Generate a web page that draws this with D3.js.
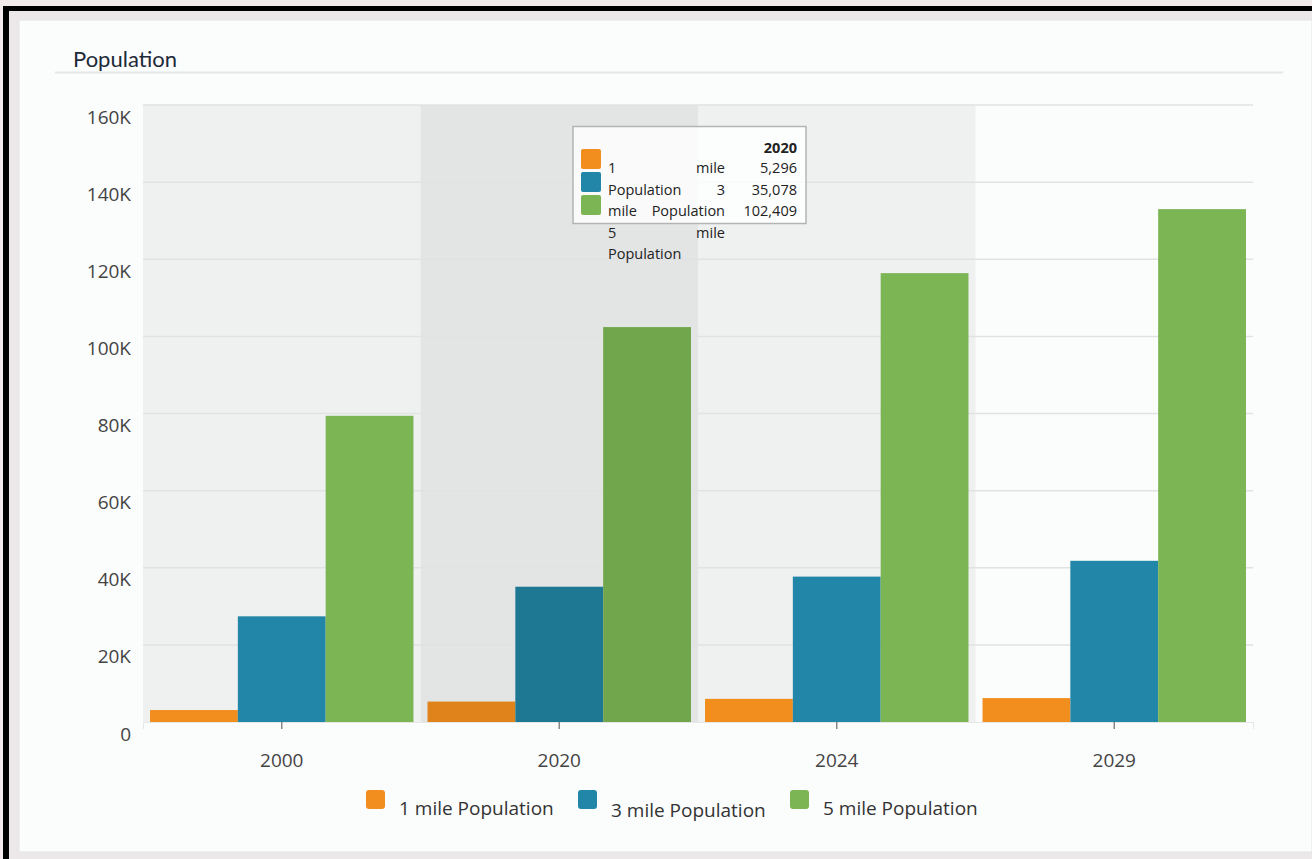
<!DOCTYPE html>
<html>
<head>
<meta charset="utf-8">
<script src="https://cdn.jsdelivr.net/npm/d3@7"></script>
<style>
  body { margin: 0; background: #f4eced; }
  svg { display: block; }
  .tick text { font-family: "Open Sans", sans-serif; }
</style>
</head>
<body>
<svg width="1312" height="859"></svg>
<script>
// chart data
const years = ["2000", "2020", "2024", "2029"]
const seriesNames = ["1 mile Population", "3 mile Population", "5 mile Population"]
const mile1 = [3100, 5296, 6000, 6200]
const mile3 = [27400, 35078, 37700, 41800]
const mile5 = [79400, 102409, 116400, 133000]
const colors = ["#f28e1e", "#2186a7", "#7cb554"]
const hoverColors = ["#e0831b", "#1e7894", "#71a64c"]
const hovered = "2020" // the band under the mouse in the picture

const svg = d3.select("svg")

// page background, black frame and the white panel
svg.append("rect").attr("width", 1312).attr("height", 859).attr("fill", "#f3eaeb")
svg.append("rect").attr("x", 3).attr("y", 6).attr("width", 1309).attr("height", 853).attr("fill", "#000")
svg.append("rect").attr("x", 9).attr("y", 11).attr("width", 1303).attr("height", 848).attr("fill", "#ece7e8")
svg.append("rect")
  .attr("x", 19).attr("y", 20).attr("width", 1293).attr("height", 832)
  .attr("fill", "#fbfcfc").attr("stroke", "#e3e5e5")

// title
svg.append("text")
  .attr("x", 73).attr("y", 67)
  .attr("font-family", "Lato, sans-serif")
  .attr("font-size", 22)
  .attr("fill", "#1d2a38")
  .text("Population")

svg.append("line")
  .attr("x1", 55).attr("x2", 1283).attr("y1", 72.5).attr("y2", 72.5)
  .attr("stroke", "#e4e7e7").attr("stroke-width", 2)

// scales
const x = d3.scaleBand().domain(years).range([143, 1253])
const xInner = d3.scaleBand().domain(seriesNames).range([0, x.bandwidth()]).paddingOuter(0.08)
const y = d3.scaleLinear().domain([0, 160000]).range([722, 105])

// category bands (last one left blank, hovered one darker)
svg.append("g")
  .selectAll("rect")
  .data(years)
  .enter()
  .append("rect")
  .attr("x", d => x(d))
  .attr("y", y(160000))
  .attr("width", x.bandwidth())
  .attr("height", y(0) - y(160000))
  .attr("fill", (d, i) => d == hovered ? "#e3e4e4" : (i == years.length - 1 ? "none" : "#eff0f0"))

// gridlines
svg.append("g")
  .selectAll("line")
  .data(y.ticks(8).filter(d => d > 0))
  .enter()
  .append("line")
  .attr("x1", 143).attr("x2", 1253)
  .attr("y1", d => y(d)).attr("y2", d => y(d))
  .attr("stroke", "#e1e3e3").attr("stroke-width", 1.5)

// y axis labels, sitting a little below their gridline like the original
const yAxis = svg.append("g")
  .attr("transform", "translate(131,0)")
  .call(d3.axisLeft(y).ticks(8).tickSize(0).tickPadding(0).tickFormat(d => d == 0 ? "0" : d / 1000 + "K"))
yAxis.select(".domain").remove()
yAxis.selectAll("text")
  .attr("dy", 18)
  .attr("font-size", 19)
  .attr("fill", "#444")

// x axis
const xAxis = svg.append("g")
  .attr("transform", `translate(0,${y(0)})`)
  .call(d3.axisBottom(x).tickSize(7).tickPadding(25))
xAxis.select(".domain").attr("stroke", "#e6e8e8")
xAxis.selectAll(".tick line").attr("stroke", "#888").attr("stroke-width", 1.5)
xAxis.selectAll("text").attr("font-size", 19).attr("fill", "#444")

// bars
const table = years.map((yr, i) => ({ year: yr, values: [mile1[i], mile3[i], mile5[i]] }))

const groups = svg.selectAll("g.year")
  .data(table)
  .enter()
  .append("g")
  .attr("class", "year")
  .attr("transform", d => `translate(${x(d.year)},0)`)

groups.selectAll("rect")
  .data(d => d.values.map((v, k) => ({ year: d.year, name: seriesNames[k], k: k, value: v })))
  .enter()
  .append("rect")
  .attr("x", d => xInner(d.name))
  .attr("y", d => y(d.value))
  .attr("width", xInner.bandwidth())
  .attr("height", d => y(0) - y(d.value))
  .attr("fill", d => d.year == hovered ? hoverColors[d.k] : colors[d.k])

// tooltip for the hovered year
const hi = years.indexOf(hovered)
const tip = svg.append("g").attr("font-family", "'Open Sans', sans-serif").attr("font-size", 14.5).attr("fill", "#222")
tip.append("rect")
  .attr("x", 573).attr("y", 126.5).attr("width", 233).attr("height", 97)
  .attr("fill", "#fff").attr("fill-opacity", 0.82)
  .attr("stroke", "#b4b4b4").attr("stroke-width", 1.5)
tip.append("text")
  .attr("x", 797).attr("y", 153).attr("text-anchor", "end").attr("font-weight", "bold")
  .text(hovered)
seriesNames.forEach((name, k) => {
  tip.append("rect")
    .attr("x", 581).attr("y", 149 + k * 23).attr("width", 20).attr("height", 20).attr("rx", 2)
    .attr("fill", colors[k])
  tip.append("text")
    .attr("x", 797).attr("y", 173 + k * 21.5).attr("text-anchor", "end")
    .text(d3.format(",")([mile1, mile3, mile5][k][hi]))
})
// the series names run together in one narrow justified column
const words = seriesNames.join(" ").split(" ")
const lines = d3.range(0, words.length, 2).map(i => words.slice(i, i + 2))
lines.forEach((ln, j) => {
  tip.append("text").attr("x", 608).attr("y", 173 + j * 21.5).text(ln[0])
  if (ln[1]) tip.append("text").attr("x", 725).attr("y", 173 + j * 21.5).attr("text-anchor", "end").text(ln[1])
})

// legend
const legendX = [366, 578, 790]
const legend = svg.selectAll("g.legend")
  .data(seriesNames)
  .enter()
  .append("g")
  .attr("class", "legend")
  .attr("transform", (d, i) => `translate(${legendX[i]},790)`)
legend.append("rect")
  .attr("width", 19).attr("height", 19).attr("rx", 3)
  .attr("fill", (d, i) => colors[i])
legend.append("text")
  .attr("x", 33).attr("y", (d, i) => i == 1 ? 27 : 25)
  .attr("font-family", "'Open Sans', sans-serif")
  .attr("font-size", 19).attr("fill", "#333")
  .text(d => d)
</script>
</body>
</html>
